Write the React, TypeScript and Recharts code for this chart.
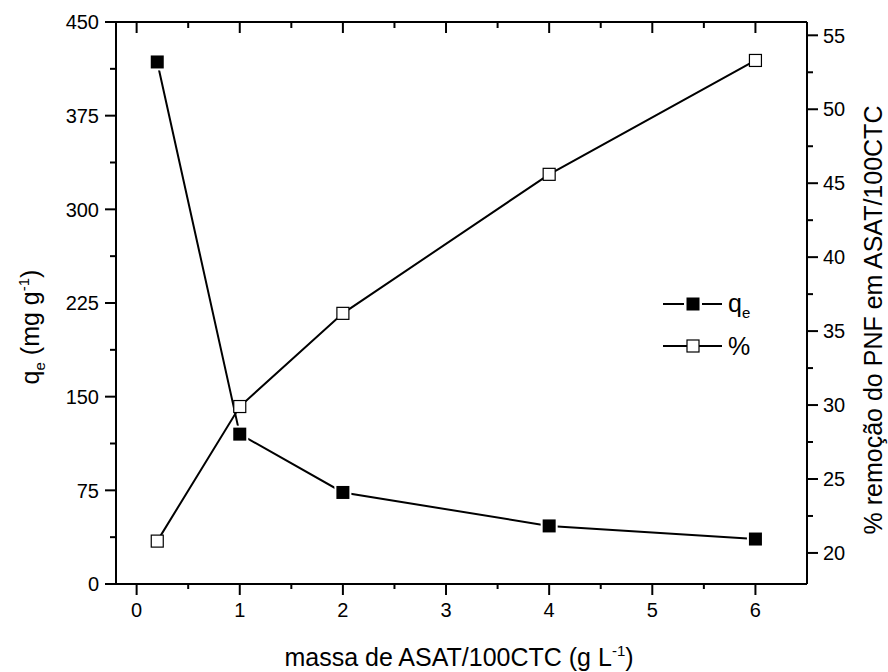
import { Label, Legend, Line, LineChart, ReferenceLine, XAxis, YAxis } from 'recharts';

// massa de ASAT/100CTC (g L-1)
const massa = [0.2, 1, 2, 4, 6];
// qe (mg g-1)
const qe = [418, 120, 73.3, 46.5, 36];
// % remoção
const remocao = [20.8, 29.9, 36.2, 45.6, 53.3];

const xTicks = [0, 0.5, 1, 1.5, 2, 2.5, 3, 3.5, 4, 4.5, 5, 5.5, 6];
const qeTicks = [0, 37.5, 75, 112.5, 150, 187.5, 225, 262.5, 300, 337.5, 375, 412.5, 450];
const pctTicks = [20, 22.5, 25, 27.5, 30, 32.5, 35, 37.5, 40, 42.5, 45, 47.5, 50, 52.5, 55];

const data = massa.map((m, i) => ({ massa: m, qe: qe[i], pct: remocao[i] }));

const FONT = '"Liberation Sans", Arial, sans-serif';
const AXIS_W = 2;
const PLOT_TOP = 22;

// bottom ticks + the mirrored inward ticks on the top frame
const BottomTick = (props: any) => {
  const { x, y, payload } = props;
  const major = payload.value % 1 === 0;
  return (
    <g>
      <path d={`M${x},${y}V${y + (major ? 11 : 5)}`} stroke="#000" strokeWidth={AXIS_W} fill="none" />
      <path d={`M${x},${PLOT_TOP}V${PLOT_TOP + (major ? 11 : 6)}`} stroke="#000" strokeWidth={AXIS_W} fill="none" />
      {major && (
        <text x={x} y={y + 33} textAnchor="middle" fontSize={20} fontFamily={FONT} fill="#000">
          {payload.value}
        </text>
      )}
    </g>
  );
};

const LeftTick = (props: any) => {
  const { x, y, payload } = props;
  const major = payload.value % 75 === 0;
  return (
    <g>
      <path d={`M${x - (major ? 11 : 6)},${y}H${x}`} stroke="#000" strokeWidth={AXIS_W} fill="none" />
      {major && (
        <text x={x - 17} y={y} dy="0.36em" textAnchor="end" fontSize={20} fontFamily={FONT} fill="#000">
          {payload.value}
        </text>
      )}
    </g>
  );
};

const RightTick = (props: any) => {
  const { x, y, payload } = props;
  const major = payload.value % 5 === 0;
  return (
    <g>
      <path d={`M${x},${y}H${x + (major ? 11 : 6)}`} stroke="#000" strokeWidth={AXIS_W} fill="none" />
      {major && (
        <text x={x + 16} y={y} dy="0.36em" textAnchor="start" fontSize={20} fontFamily={FONT} fill="#000">
          {payload.value}
        </text>
      )}
    </g>
  );
};

const FilledSquare = (props: any) => {
  const { cx, cy, index } = props;
  return (
    <g key={`f${index}`}>
      <rect x={cx - 8.5} y={cy - 8.5} width={17} height={17} fill="#fff" />
      <rect x={cx - 6.5} y={cy - 6.5} width={13} height={13} fill="#000" />
    </g>
  );
};

const OpenSquare = (props: any) => {
  const { cx, cy, index } = props;
  return <rect key={`o${index}`} x={cx - 6} y={cy - 6} width={12} height={12} fill="#fff" stroke="#000" strokeWidth={1.2} />;
};

const renderLegend = () => (
  <svg width={130} height={90} style={{ overflow: 'visible' }}>
    <line x1={13} x2={34} y1={24} y2={24} stroke="#000" strokeWidth={2} />
    <line x1={52} x2={72} y1={24} y2={24} stroke="#000" strokeWidth={2} />
    <rect x={36.5} y={17.5} width={13} height={13} fill="#000" />
    <text x={78} y={32} fontSize={25} fontFamily={FONT}>
      q<tspan dy={6} fontSize={15}>e</tspan>
    </text>
    <line x1={13} x2={72} y1={66} y2={66} stroke="#000" strokeWidth={2} />
    <rect x={37} y={60} width={12} height={12} fill="#fff" stroke="#000" strokeWidth={1.2} />
    <text x={78} y={75} fontSize={25} fontFamily={FONT}>
      %
    </text>
  </svg>
);

export default function App() {
  return (
    <div style={{ position: 'absolute', left: 0, top: 0, background: '#fff' }}>
      <LineChart width={888} height={672} data={data} margin={{ top: PLOT_TOP, right: 21, bottom: 28, left: 16 }}>
        <XAxis
          dataKey="massa"
          type="number"
          domain={[-0.2, 6.5]}
          allowDataOverflow
          ticks={xTicks}
          interval={0}
          height={60}
          tickSize={0}
          tickMargin={0}
          tickLine={false}
          axisLine={{ stroke: '#000', strokeWidth: AXIS_W }}
          tick={BottomTick}
        >
          <Label
            content={() => (
              <text x={459} y={666} textAnchor="middle" fontSize={25} fontFamily={FONT} fill="#000">
                massa de ASAT/100CTC (g L
                <tspan dy={-10} fontSize={15}>-1</tspan>
                <tspan dy={10}>)</tspan>
              </text>
            )}
          />
        </XAxis>
        <YAxis
          yAxisId="left"
          orientation="left"
          type="number"
          domain={[0, 450]}
          allowDataOverflow
          ticks={qeTicks}
          interval={0}
          width={100}
          tickSize={0}
          tickMargin={0}
          tickLine={false}
          axisLine={{ stroke: '#000', strokeWidth: AXIS_W }}
          tick={LeftTick}
        >
          <Label
            content={() => (
              <text transform="rotate(-90)" x={-327} y={39} textAnchor="middle" fontSize={25} fontFamily={FONT} fill="#000">
                q<tspan dy={6} fontSize={15}>e</tspan>
                <tspan dy={-6}> (mg g</tspan>
                <tspan dy={-10} fontSize={15}>-1</tspan>
                <tspan dy={10}>)</tspan>
              </text>
            )}
          />
        </YAxis>
        <YAxis
          yAxisId="right"
          orientation="right"
          type="number"
          domain={[17.9, 55.9]}
          allowDataOverflow
          ticks={pctTicks}
          interval={0}
          width={60}
          tickSize={0}
          tickMargin={0}
          tickLine={false}
          axisLine={{ stroke: '#000', strokeWidth: AXIS_W }}
          tick={RightTick}
        >
          <Label
            content={() => (
              <text transform="rotate(-90)" x={-320} y={882} textAnchor="middle" fontSize={25} fontFamily={FONT} fill="#000">
                % remoção do PNF em ASAT/100CTC
              </text>
            )}
          />
        </YAxis>
        <ReferenceLine yAxisId="left" y={450} stroke="#000" strokeWidth={AXIS_W} />
        <Legend
          layout="vertical"
          align="center"
          verticalAlign="middle"
          content={renderLegend}
          wrapperStyle={{ left: 650, top: 280, width: 130, height: 90 }}
        />
        <Line
          yAxisId="left"
          dataKey="qe"
          type="linear"
          stroke="#000"
          strokeWidth={2}
          dot={FilledSquare}
          activeDot={false}
          isAnimationActive={false}
        />
        <Line
          yAxisId="right"
          dataKey="pct"
          type="linear"
          stroke="#000"
          strokeWidth={2}
          dot={OpenSquare}
          activeDot={false}
          isAnimationActive={false}
        />
      </LineChart>
    </div>
  );
}
